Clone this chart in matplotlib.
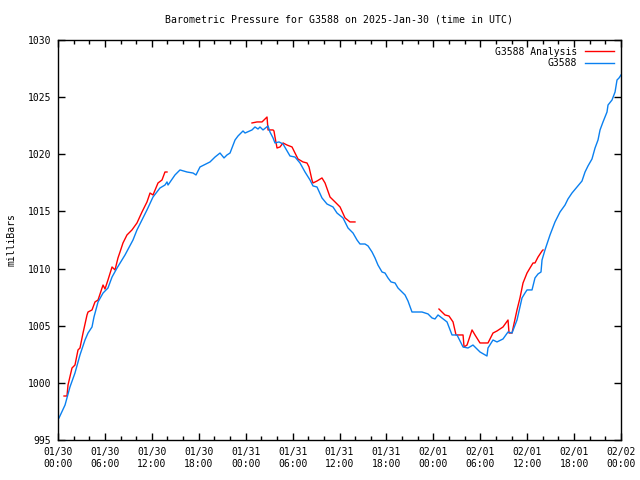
import numpy as np
import matplotlib
matplotlib.use("Agg")
import matplotlib.pyplot as plt
from matplotlib.ticker import MultipleLocator

# hours since 2025-01-30 00:00 UTC, pressure in mb
obs_hours = [0.13, 0.90, 1.53, 2.17, 2.81, 3.45, 3.84, 4.35, 4.60, 5.12, 5.76, 6.39, 6.91, 7.55,
             8.57, 9.59, 10.10, 11.38, 12.15, 13.04, 13.68, 13.94, 14.07, 14.96, 15.60, 16.50,
             17.27, 17.65, 18.16, 19.44, 20.08, 20.72, 21.23, 21.61, 22.00, 22.64, 23.02, 23.66,
             23.92, 24.81, 25.19, 25.58, 25.83, 26.22, 26.86, 27.11, 27.50, 27.75, 28.26, 28.78,
             29.67, 30.31, 30.95, 31.59, 32.23, 32.61, 33.12, 33.76, 34.40, 35.17, 35.68, 36.45,
             37.09, 37.73, 38.24, 38.62, 39.26, 39.65, 40.16, 40.54, 40.92, 41.44, 41.82, 42.20,
             42.59, 43.10, 43.48, 43.99, 44.38, 44.76, 45.27, 45.91, 46.55, 47.32, 47.83, 48.21,
             48.60, 49.75, 50.39, 51.03, 51.80, 52.43, 53.07, 53.97, 54.86, 54.99, 55.63, 56.14,
             56.91, 57.55, 58.06, 58.70, 59.34, 59.72, 59.98, 60.62, 61.00, 61.39, 61.77, 61.90,
             62.28, 62.92, 63.56, 64.20, 64.84, 65.22, 65.73, 66.37, 67.01, 67.40, 67.78, 68.29,
             68.68, 69.06, 69.32, 69.70, 70.21, 70.34, 70.85, 71.24, 71.49, 71.75, 72.00]
obs_mb = [996.93, 998.06, 999.64, 1000.86, 1002.44, 1003.75, 1004.36, 1004.89, 1005.76, 1007.08,
          1007.86, 1008.30, 1009.26, 1010.05, 1011.19, 1012.50, 1013.38, 1015.13, 1016.26, 1017.05,
          1017.31, 1017.58, 1017.31, 1018.19, 1018.63, 1018.45, 1018.36, 1018.19, 1018.89, 1019.33,
          1019.76, 1020.11, 1019.68, 1019.94, 1020.11, 1021.25, 1021.60, 1022.04, 1021.86, 1022.13,
          1022.39, 1022.21, 1022.39, 1022.13, 1022.48, 1021.95, 1021.43, 1020.99, 1021.08, 1020.90,
          1019.85, 1019.76, 1019.24, 1018.45, 1017.75, 1017.23, 1017.14, 1016.18, 1015.65, 1015.39,
          1014.86, 1014.43, 1013.55, 1013.11, 1012.50, 1012.15, 1012.15, 1011.98, 1011.45, 1010.93,
          1010.31, 1009.70, 1009.61, 1009.18, 1008.83, 1008.74, 1008.30, 1007.95, 1007.69, 1007.16,
          1006.20, 1006.20, 1006.20, 1006.03, 1005.68, 1005.59, 1005.94, 1005.33, 1004.19, 1004.19,
          1003.14, 1003.05, 1003.31, 1002.70, 1002.35, 1003.05, 1003.75, 1003.58, 1003.84, 1004.45,
          1004.36, 1005.50, 1007.43, 1007.86, 1008.13, 1008.13, 1009.18, 1009.53, 1009.70, 1010.75,
          1011.63, 1012.94, 1014.08, 1014.95, 1015.56, 1016.09, 1016.61, 1017.14, 1017.66, 1018.45,
          1018.98, 1019.59, 1020.55, 1021.25, 1022.13, 1022.83, 1023.70, 1024.31, 1024.75, 1025.45,
          1026.50, 1026.68, 1026.94]

# analysis comes in three separate runs
ana1_hours = [0.77, 1.15, 1.28, 1.79, 2.17, 2.56, 2.81, 3.20, 3.71, 3.84, 4.35, 4.73, 5.12, 5.63,
              5.76, 6.01, 6.39, 6.91, 7.29, 7.67, 7.93, 8.31, 8.82, 9.46, 10.10, 10.74, 11.38,
              11.77, 12.15, 12.79, 13.30, 13.68, 13.94]
ana1_mb = [998.85, 998.85, 999.81, 1001.30, 1001.56, 1002.88, 1003.05, 1004.36, 1005.94, 1006.20,
           1006.38, 1007.08, 1007.25, 1008.30, 1008.56, 1008.21, 1009.00, 1010.14, 1009.88, 1010.93,
           1011.45, 1012.24, 1012.94, 1013.38, 1013.99, 1014.95, 1015.83, 1016.61, 1016.44, 1017.49,
           1017.75, 1018.45, 1018.45]
ana2_hours = [24.81, 25.45, 26.09, 26.73, 26.86, 27.50, 27.62, 27.75, 28.01, 28.39, 28.78, 29.29,
              29.93, 30.31, 30.69, 31.33, 31.84, 32.10, 32.48, 32.61, 33.12, 33.76, 34.15, 34.79,
              35.43, 36.07, 36.71, 37.34, 37.98]
ana2_mb = [1022.74, 1022.83, 1022.83, 1023.26, 1022.13, 1022.13, 1022.04, 1021.51, 1020.55, 1020.64,
           1020.99, 1020.81, 1020.64, 1020.11, 1019.59, 1019.33, 1019.24, 1018.89, 1017.75, 1017.49,
           1017.66, 1017.93, 1017.49, 1016.26, 1015.83, 1015.39, 1014.43, 1014.08, 1014.08]
ana3_hours = [48.72, 49.49, 50.00, 50.52, 50.90, 51.80, 51.93, 52.31, 52.95, 53.33, 53.97, 54.61,
              54.99, 55.63, 56.14, 56.91, 57.55, 57.68, 58.06, 58.70, 59.08, 59.47, 59.98, 60.36,
              60.75, 61.00, 61.39, 61.90, 62.03]
ana3_mb = [1006.46, 1005.94, 1005.85, 1005.33, 1004.19, 1004.19, 1003.14, 1003.31, 1004.63, 1004.19,
           1003.49, 1003.49, 1003.49, 1004.36, 1004.54, 1004.89, 1005.50, 1004.36, 1004.36, 1006.38,
           1007.43, 1008.74, 1009.61, 1010.05, 1010.49, 1010.49, 1011.01, 1011.54, 1011.63]

tick_hours = list(range(0, 73, 6))
tick_labels = ["01/30\n00:00", "01/30\n06:00", "01/30\n12:00", "01/30\n18:00",
               "01/31\n00:00", "01/31\n06:00", "01/31\n12:00", "01/31\n18:00",
               "02/01\n00:00", "02/01\n06:00", "02/01\n12:00", "02/01\n18:00",
               "02/02\n00:00"]

ana_hours = ana1_hours + [np.nan] + ana2_hours + [np.nan] + ana3_hours
ana_mb = ana1_mb + [np.nan] + ana2_mb + [np.nan] + ana3_mb

plt.rcParams['font.family'] = 'DejaVu Sans Mono'
plt.rcParams['font.size'] = 7

fig = plt.figure(figsize=(6.4, 4.8), dpi=100)
ax = fig.add_axes([58 / 640, 40 / 480, 563 / 640, 400 / 480])

ax.plot(ana_hours, ana_mb, color='#ff0000', lw=1, label='G3588 Analysis')
ax.plot(obs_hours, obs_mb, color='#0a80f0', lw=1, label='G3588')

ax.set_xlim(0, 72)
ax.set_ylim(995, 1030)
ax.set_xticks(tick_hours)
ax.set_xticklabels(tick_labels)
ax.xaxis.set_minor_locator(MultipleLocator(2))
ax.yaxis.set_major_locator(MultipleLocator(5))
ax.tick_params(which='both', direction='in', top=True, right=True, width=1, pad=5, labelsize=7)
ax.tick_params(which='major', length=5)
ax.tick_params(which='minor', length=3)
for s in ax.spines.values():
    s.set_linewidth(1)

ax.set_ylabel('milliBars', labelpad=8)
fig.text(0.529, 1 - 20 / 480, 'Barometric Pressure for G3588 on 2025-Jan-30 (time in UTC)',
         ha='center', va='center', fontsize=7.1)

ax.legend(loc='upper right', frameon=False, markerfirst=False, handlelength=3.0,
          borderaxespad=0.3, labelspacing=0.15, fontsize=7)

fig.savefig('out.png', dpi=100)
